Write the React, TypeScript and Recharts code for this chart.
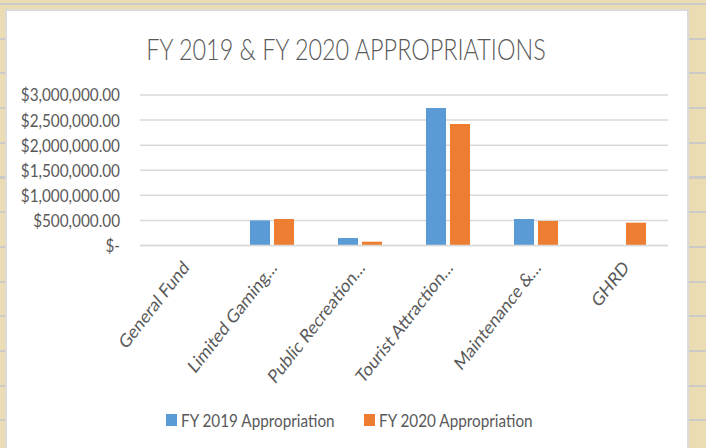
import React from "react";
import { BarChart, Bar, XAxis, YAxis, CartesianGrid, Legend } from "recharts";

const categories = [
  "General Fund",
  "Limited Gaming…",
  "Public Recreation…",
  "Tourist Attraction…",
  "Maintenance &…",
  "GHRD",
];
const fy2019 = [0, 500000, 150000, 2740000, 528000, 0];
const fy2020 = [0, 528000, 76000, 2420000, 488000, 455000];
const yTicks = [0, 500000, 1000000, 1500000, 2000000, 2500000, 3000000];
const seriesNames = ["FY 2019 Appropriation", "FY 2020 Appropriation"];
const colors = ["#5B9BD5", "#ED7D31"];

const data = categories.map((c, i) => ({ name: c, fy2019: fy2019[i], fy2020: fy2020[i] }));

const FONT = "Lato, 'Open Sans', sans-serif";
const TEXT = "#595959";

const fmt = (v: number) =>
  v === 0
    ? "$-"
    : "$" + v.toLocaleString("en-US", { minimumFractionDigits: 2, maximumFractionDigits: 2 });

const YTick = (props: any) => {
  const { x, y, payload } = props;
  return (
    <text
      transform={`translate(${x},${y}) scale(0.85,1)`}
      textAnchor="end"
      dy="0.36em"
      fontSize={18}
      fontFamily={FONT}
      fill={TEXT}
    >
      {fmt(payload.value)}
    </text>
  );
};

const XTick = (props: any) => {
  const { x, y, payload } = props;
  return (
    <text
      transform={`translate(${x + 6},${y + 23}) scale(0.84,1) rotate(-47)`}
      textAnchor="end"
      fontSize={19}
      fontFamily={FONT}
      fill={TEXT}
    >
      {payload.value}
    </text>
  );
};

const LegendContent = () => (
  <svg width={706} height={30}>
    {seriesNames.map((n, i) => {
      const x0 = 166 + i * 198;
      return (
        <g key={n}>
          <rect x={x0} y={9} width={11} height={12} fill={colors[i]} />
          <text
            transform={`translate(${x0 + 15},${22}) scale(0.85,1)`}
            fontSize={18}
            fontFamily={FONT}
            fill={TEXT}
          >
            {n}
          </text>
        </g>
      );
    })}
  </svg>
);

export default function App() {
  return (
    <div
      style={{
        position: "absolute",
        left: 0,
        top: 0,
        width: 706,
        height: 448,
        overflow: "hidden",
        backgroundColor: "#ecdcb4",
        backgroundImage:
          "repeating-linear-gradient(to bottom, rgba(200,200,200,0.9) 0px, rgba(200,200,200,0.9) 2px, transparent 2px, transparent 34.7px)",
        backgroundPosition: "0 3px",
      }}
    >
      <div
        style={{
          position: "absolute",
          left: 5,
          top: 9,
          width: 680,
          height: 450,
          background: "#fff",
          border: "2px solid #dadada",
        }}
      />
      <div
        style={{
          position: "absolute",
          left: 0,
          top: 30,
          width: 692,
          textAlign: "center",
          fontFamily: FONT,
          fontSize: 30,
          fontWeight: 300,
          color: TEXT,
          transform: `scaleX(0.78)`,
          transformOrigin: "346px 0",
          lineHeight: "36px",
          whiteSpace: "nowrap",
        }}
      >
        FY 2019 &amp; FY 2020 APPROPRIATIONS
      </div>
      <div style={{ position: "absolute", left: 0, top: 0 }}>
        <BarChart
          width={706}
          height={448}
          data={data}
          margin={{ top: 95, right: 38, left: 0, bottom: 0 }}
          barCategoryGap="25%"
          barGap={4}
        >
          <CartesianGrid vertical={false} stroke="#d9d9d9" strokeWidth={1.5} />
          <XAxis
            dataKey="name"
            height={202.5}
            interval={0}
            tickLine={false}
            tickSize={0}
            tickMargin={0}
            axisLine={{ stroke: "#d9d9d9", strokeWidth: 1.5 }}
            tick={<XTick />}
          />
          <YAxis
            width={140}
            domain={[0, 3000000]}
            ticks={yTicks}
            axisLine={false}
            tickLine={false}
            tickSize={0}
            tickMargin={20}
            tick={<YTick />}
          />
          <Legend
            verticalAlign="middle"
            align="center"
            layout="horizontal"
            wrapperStyle={{ top: 405, left: 0, width: 706 }}
            content={<LegendContent />}
          />
          <Bar dataKey="fy2019" name={seriesNames[0]} fill={colors[0]} isAnimationActive={false} />
          <Bar dataKey="fy2020" name={seriesNames[1]} fill={colors[1]} isAnimationActive={false} />
        </BarChart>
      </div>
    </div>
  );
}
